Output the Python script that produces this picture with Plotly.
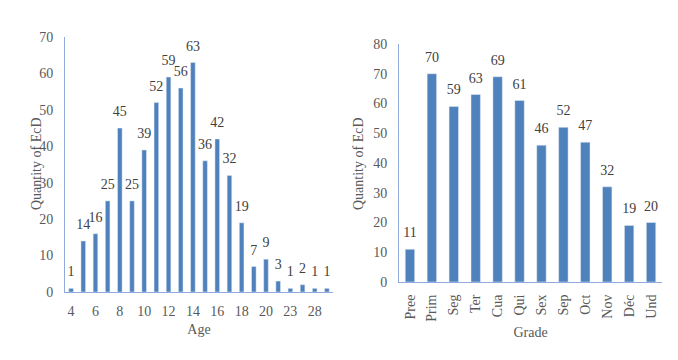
import plotly.graph_objects as go

age_labels = ["4","5","6","7","8","9","10","11","12","13","14","15","16","17","18","19","20","21","23","25","28","30"]
age_values = [1,14,16,25,45,25,39,52,59,56,63,36,42,32,19,7,9,3,1,2,1,1]
age_ticks = ["4","6","8","10","12","14","16","18","20","23","28"]

grade_labels = ["Pree","Prim","Seg","Ter","Cua","Qui","Sex","Sep","Oct","Nov","Déc","Und"]
grade_values = [11,70,59,63,69,61,46,52,47,32,19,20]

BAR = "#4F81BD"
AXIS = "#8FAADC"
TXT = "#595959"
LBL = "#404040"
FONT = "Liberation Serif"

# page body has an 8px default margin; size the figure to fit the window
OFF = 8
W, H = 678 - OFF, 360 - OFF


def px(x):
    return (x - OFF) / W


def py(y):
    return 1 - (y - OFF) / H


fig = go.Figure()
fig.add_trace(go.Bar(x=age_labels, y=age_values, marker_color=BAR, width=0.38,
                     xaxis="x", yaxis="y", showlegend=False, hoverinfo="x+y"))
fig.add_trace(go.Bar(x=grade_labels, y=grade_values, marker_color=BAR, width=0.43,
                     xaxis="x2", yaxis="y2", showlegend=False, hoverinfo="x+y"))

# value labels
fig.add_trace(go.Scatter(x=age_labels, y=age_values, mode="markers+text",
                         text=[str(v) for v in age_values], textposition="top center",
                         marker=dict(size=12, opacity=0), cliponaxis=False,
                         textfont=dict(family=FONT, size=14, color=LBL),
                         xaxis="x", yaxis="y", showlegend=False, hoverinfo="skip"))
fig.add_trace(go.Scatter(x=grade_labels, y=grade_values, mode="markers+text",
                         text=[str(v) for v in grade_values], textposition="top center",
                         marker=dict(size=12, opacity=0), cliponaxis=False,
                         textfont=dict(family=FONT, size=14, color=LBL),
                         xaxis="x2", yaxis="y2", showlegend=False, hoverinfo="skip"))

# y-axis titles (placed like the original, overlapping tick area on the left chart)
fig.add_annotation(x=px(37), y=py(164), xref="paper", yref="paper", text="Quantity of EcD",
                   textangle=-90, showarrow=False, xanchor="center", yanchor="middle",
                   font=dict(family=FONT, size=14, color=TXT))
fig.add_annotation(x=px(358), y=py(163), xref="paper", yref="paper", text="Quantity of EcD",
                   textangle=-90, showarrow=False, xanchor="center", yanchor="middle",
                   font=dict(family=FONT, size=14, color=TXT))

fig.update_layout(
    width=W, height=H,
    margin=dict(l=0, r=0, t=0, b=0, autoexpand=False),
    paper_bgcolor="white", plot_bgcolor="white",
    font=dict(family=FONT, size=14, color=TXT),
    xaxis=dict(domain=[px(65), px(333)], anchor="y", type="category", automargin=False,
               categoryorder="array", categoryarray=age_labels,
               range=[-0.5, len(age_labels) - 0.5],
               tickmode="array", tickvals=age_ticks, ticktext=age_ticks,
               showline=True, linecolor=AXIS, linewidth=1, ticks="",
               showgrid=False, tickangle=0, ticklabelstandoff=6,
               title=dict(text="Age", standoff=6, font=dict(size=14, color=TXT))),
    yaxis=dict(domain=[py(292), py(37)], anchor="x", range=[0, 70], dtick=10,
               automargin=False,
               showline=True, linecolor=AXIS, linewidth=1, ticks="", showgrid=False,
               zeroline=False, ticklabelstandoff=8),
    xaxis2=dict(domain=[px(399), px(662)], anchor="y2", type="category", automargin=False,
                categoryorder="array", categoryarray=grade_labels,
                range=[-0.5, len(grade_labels) - 0.5],
                showline=True, linecolor=AXIS, linewidth=1, ticks="",
                showgrid=False, tickangle=-90, ticklabelstandoff=6,
                title=dict(text="Grade", standoff=6, font=dict(size=14, color=TXT))),
    yaxis2=dict(domain=[py(282), py(44)], anchor="x2", range=[0, 80], dtick=10,
                automargin=False,
                showline=True, linecolor=AXIS, linewidth=1, ticks="", showgrid=False,
                zeroline=False, ticklabelstandoff=8),
    bargap=0.6,
)

fig.write_html("out.html")
